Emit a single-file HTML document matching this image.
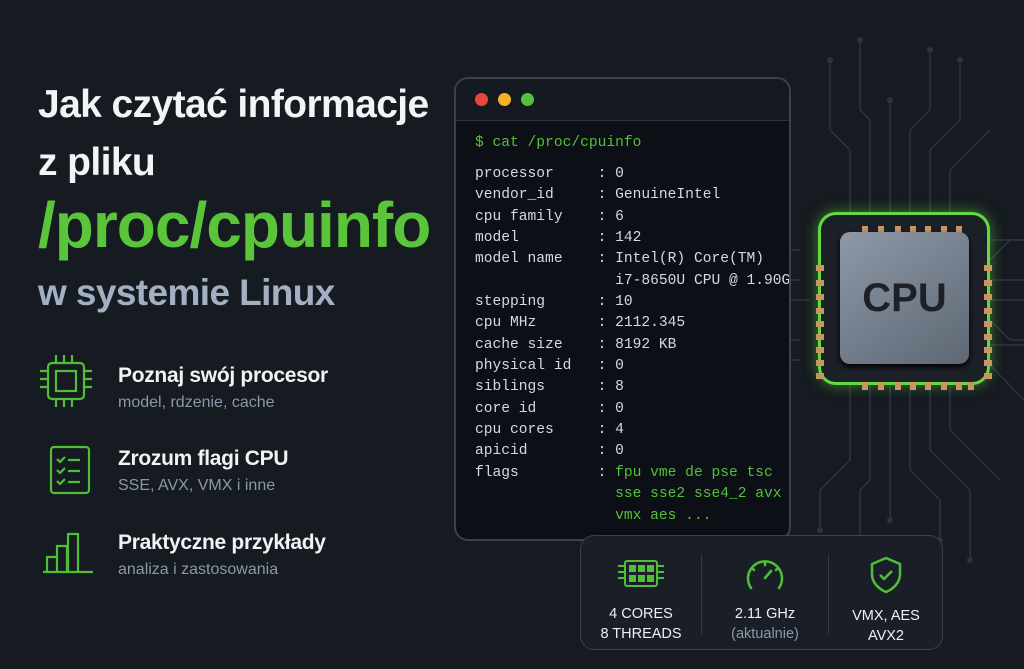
<!DOCTYPE html>
<html><head><meta charset="utf-8"><style>
*{margin:0;padding:0;box-sizing:border-box}
body{width:1024px;height:669px;overflow:hidden;background:#161a21;font-family:"Liberation Sans",sans-serif;position:relative;color:#fff}
.abs{position:absolute}
.t1{left:38px;font-weight:bold;font-size:39px;color:#f2f4f7;letter-spacing:-0.6px;white-space:nowrap}
.green{color:#5ac53a}
.feat{left:118px;}
.feat b{display:block;font-size:21px;color:#f0f2f5;font-weight:bold;letter-spacing:-0.3px}
.feat span{display:block;font-size:16px;color:#8c97a8;margin-top:6px}
.term{left:454px;top:77px;width:337px;height:464px;border:2px solid #394150;border-radius:14px;background:#0c1016;overflow:hidden}
.thead{height:42px;background:#151a22;border-bottom:1px solid #2a313c}
.dot{position:absolute;top:14px;width:13px;height:13px;border-radius:50%}
pre,.cmd{position:absolute;left:19px;font-family:"Liberation Mono",monospace;font-size:14.6px;line-height:21.35px;color:#d5d9e0;white-space:pre}
.g{color:#52c234}
.panel{left:580px;top:535px;width:363px;height:115px;border:1.5px solid #3a4250;border-radius:14px;background:#1a1f27}
.pc{position:absolute;top:0;height:100%;text-align:center;font-size:14.5px;color:#eef0f3;line-height:20px}
.sep{position:absolute;top:18px;width:1px;height:80px;background:#323a46}
</style></head><body>
<svg class="abs" style="left:0;top:0" width="1024" height="669">
<g stroke="#2c3440" stroke-width="1.5" fill="none">
<path d="M800 250 H760 L740 230 V120"/><path d="M800 280 H770 L750 260"/><path d="M810 300 H790"/>
<path d="M850 212 V150 L830 130 V60"/><path d="M870 212 V120 L860 110 V40"/><path d="M890 212 V100"/><path d="M910 212 V130 L930 110 V50"/><path d="M930 212 V150 L960 120 V60"/><path d="M950 212 V170 L990 130"/>
<path d="M990 240 H1024"/><path d="M990 260 L1010 240 H1024"/><path d="M990 280 H1024"/><path d="M990 300 H1024"/><path d="M990 320 L1010 340 H1024"/><path d="M990 345 H1024"/><path d="M990 365 L1024 400"/>
<path d="M850 385 V460 L820 490 V530"/><path d="M870 385 V480 L860 490 V540"/><path d="M890 385 V520"/><path d="M910 385 V470 L940 500 V540"/><path d="M930 385 V450 L970 490 V560"/><path d="M950 385 V430 L1000 480"/>
<path d="M800 340 H780 L760 360 V440"/><path d="M800 360 H790 L790 420"/>
</g>
<g fill="#2c3440"><circle cx="740" cy="120" r="3"/><circle cx="830" cy="60" r="3"/><circle cx="860" cy="40" r="3"/><circle cx="890" cy="100" r="3"/><circle cx="930" cy="50" r="3"/><circle cx="960" cy="60" r="3"/><circle cx="820" cy="530" r="3"/><circle cx="860" cy="540" r="3"/><circle cx="890" cy="520" r="3"/><circle cx="940" cy="540" r="3"/><circle cx="970" cy="560" r="3"/><circle cx="760" cy="440" r="3"/></g>
</svg>
<div class="abs t1" style="top:83px">Jak czytać informacje</div>
<div class="abs t1" style="top:141px">z pliku</div>
<div class="abs t1 green" style="top:188px;font-size:64px;letter-spacing:-1px">/proc/cpuinfo</div>
<div class="abs t1" style="top:272px;font-size:37px;color:#a3b0c4">w systemie Linux</div>

<svg class="abs" style="left:40px;top:355px" width="60" height="240" fill="none" stroke="#4fbf38" stroke-width="2.2">
<rect x="8" y="8" width="36" height="36" rx="4"/><rect x="16" y="16" width="20" height="20"/>
<path d="M16 0v8M24 0v8M32 0v8M16 44v8M24 44v8M32 44v8M0 16h8M0 24h8M0 32h8M44 16h8M44 24h8M44 32h8"/>
<rect x="11" y="92" width="38" height="46" rx="3"/><path d="M17 104l3 3 5-5M28 105h12M17 115l3 3 5-5M28 116h12M17 126l3 3 5-5M28 127h12"/>
<path d="M3 217h50M7 217v-15h10v15M17 217v-26h10v26M28 217v-38h10v38"/>
</svg>
<div class="abs feat" style="top:364px"><b>Poznaj swój procesor</b><span>model, rdzenie, cache</span></div>
<div class="abs feat" style="top:447px"><b>Zrozum flagi CPU</b><span>SSE, AVX, VMX i inne</span></div>
<div class="abs feat" style="top:531px"><b>Praktyczne przykłady</b><span>analiza i zastosowania</span></div>

<div class="abs term"><div class="thead"></div>
<div class="dot" style="left:19px;background:#e8453c"></div><div class="dot" style="left:42px;background:#f3b125"></div><div class="dot" style="left:65px;background:#55c13f"></div>
<div class="cmd g" style="top:54px">$ cat /proc/cpuinfo</div>
<pre style="top:85px">processor     : 0
vendor_id     : GenuineIntel
cpu family    : 6
model         : 142
model name    : Intel(R) Core(TM)
                i7-8650U CPU @ 1.90GHz
stepping      : 10
cpu MHz       : 2112.345
cache size    : 8192 KB
physical id   : 0
siblings      : 8
core id       : 0
cpu cores     : 4
apicid        : 0
flags         : <span class="g">fpu vme de pse tsc</span>
                <span class="g">sse sse2 sse4_2 avx avx2</span>
                <span class="g">vmx aes ...</span></pre>
</div>

<div class="abs" style="left:818px;top:212px;width:172px;height:173px;border:3px solid #62d93e;border-radius:18px;background:#1c2027;box-shadow:0 0 14px rgba(98,217,62,.55)"></div>
<svg class="abs" style="left:810px;top:205px" width="190" height="190" fill="#c99563">
<g><rect x="52" y="21" width="6" height="8"/><rect x="68" y="21" width="6" height="8"/><rect x="85" y="21" width="6" height="8"/><rect x="100" y="21" width="6" height="8"/><rect x="115" y="21" width="6" height="8"/><rect x="131" y="21" width="6" height="8"/><rect x="146" y="21" width="6" height="8"/></g>
<g transform="translate(0,177)"><rect x="52" y="0" width="6" height="8"/><rect x="68" y="0" width="6" height="8"/><rect x="85" y="0" width="6" height="8"/><rect x="100" y="0" width="6" height="8"/><rect x="115" y="0" width="6" height="8"/><rect x="131" y="0" width="6" height="8"/><rect x="146" y="0" width="6" height="8"/><rect x="158" y="0" width="6" height="8"/></g>
<g><rect x="6" y="60" width="8" height="6"/><rect x="6" y="75" width="8" height="6"/><rect x="6" y="89" width="8" height="6"/><rect x="6" y="103" width="8" height="6"/><rect x="6" y="116" width="8" height="6"/><rect x="6" y="129" width="8" height="6"/><rect x="6" y="142" width="8" height="6"/><rect x="6" y="155" width="8" height="6"/><rect x="6" y="168" width="8" height="6"/></g>
<g transform="translate(168,0)"><rect x="6" y="60" width="8" height="6"/><rect x="6" y="75" width="8" height="6"/><rect x="6" y="89" width="8" height="6"/><rect x="6" y="103" width="8" height="6"/><rect x="6" y="116" width="8" height="6"/><rect x="6" y="129" width="8" height="6"/><rect x="6" y="142" width="8" height="6"/><rect x="6" y="155" width="8" height="6"/><rect x="6" y="168" width="8" height="6"/></g>
</svg>
<div class="abs" style="left:840px;top:232px;width:129px;height:132px;border-radius:10px;background:linear-gradient(145deg,#8e98a6,#5e6774);box-shadow:0 3px 6px #000;text-align:center;line-height:132px;font-size:40px;font-weight:bold;color:#1d2027">CPU</div>

<div class="abs panel">
<div class="pc" style="left:0;width:120px">
<svg style="margin-top:22px" width="50" height="32" fill="none" stroke="#4fbf38" stroke-width="2"><rect x="9" y="3" width="32" height="25" rx="2"/><g fill="#4fbf38" stroke="none"><rect x="13" y="7" width="7" height="7"/><rect x="22" y="7" width="7" height="7"/><rect x="31" y="7" width="7" height="7"/><rect x="13" y="17" width="7" height="7"/><rect x="22" y="17" width="7" height="7"/><rect x="31" y="17" width="7" height="7"/></g><path d="M2 8h7M2 14h7M2 20h7M41 8h7M41 14h7M41 20h7"/></svg>
<div style="margin-top:8px">4 CORES<br>8 THREADS</div></div>
<div class="sep" style="left:120px"></div>
<div class="pc" style="left:121px;width:126px">
<svg style="margin-top:20px" width="44" height="36" fill="none" stroke="#4fbf38" stroke-width="2.5" stroke-linecap="round"><path d="M8 32A17 17 0 1 1 36 32"/><path d="M22 22l6-7M22 6v3M9 12l2 2M35 12l-2 2"/></svg>
<div style="margin-top:6px">2.11 GHz<br><span style="color:#8c97a8">(aktualnie)</span></div></div>
<div class="sep" style="left:247px"></div>
<div class="pc" style="left:248px;width:114px">
<svg style="margin-top:20px" width="34" height="38" fill="none" stroke="#4fbf38" stroke-width="2.5" stroke-linejoin="round"><path d="M17 2L31 8V18C31 27 24 33 17 36 10 33 3 27 3 18V8Z"/><path d="M11 19l4 4 8-8"/></svg>
<div style="margin-top:6px">VMX, AES<br>AVX2</div></div>
</div>
</body></html>
